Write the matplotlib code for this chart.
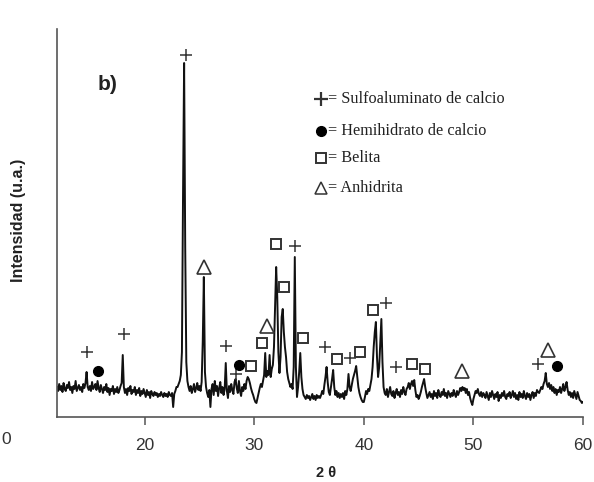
import numpy as np
import matplotlib
matplotlib.use("Agg")
import matplotlib.pyplot as plt

# 2-theta grid (0.1 deg steps) and intensities (arbitrary units)
theta = np.round(np.arange(12.0, 60.05, 0.1), 1)
intensity = [
    30, 26, 33, 27, 31, 25, 34, 28, 26, 32,   # 12
    29, 35, 27, 30, 24, 31, 28, 36, 26, 29,   # 13
    32, 27, 30, 25, 33, 29, 34, 45, 30, 27,   # 14
    31, 26, 35, 28, 30, 33, 27, 36, 29, 25,   # 15
    32, 28, 24, 30, 27, 33, 25, 29, 22, 28,   # 16
    26, 31, 23, 28, 25, 30, 24, 27, 31, 34,   # 17
    62, 30, 24, 28, 22, 29, 26, 31, 23, 27,   # 18
    25, 30, 22, 27, 24, 29, 21, 26, 23, 28,   # 19
    24, 20, 27, 22, 25, 19, 26, 23, 21, 25,   # 20
    22, 24, 20, 23, 21, 25, 22, 20, 24, 21,   # 21
    23, 20, 25, 22, 21, 24, 10, 23, 26, 30,   # 22
    30, 33, 36, 42, 65, 220, 354, 170, 55, 36,  # 23
    30, 26, 31, 24, 28, 33, 25, 29, 34, 27,   # 24
    31, 26, 35, 75, 140, 45, 30, 24, 20, 27,  # 25
    10, 28, 33, 22, 36, 26, 31, 21, 29, 35,   # 26
    24, 30, 22, 28, 54, 26, 19, 31, 25, 33,   # 27
    27, 23, 35, 38, 29, 24, 36, 26, 21, 30,   # 28
    26, 33, 28, 36, 40, 38, 34, 29, 25, 22,   # 29
    18, 15, 14, 19, 24, 29, 33, 30, 36, 42,   # 30
    64, 40, 46, 42, 62, 40, 48, 52, 70, 110,  # 31
    150, 120, 65, 44, 60, 100, 108, 85, 70, 60,  # 32
    45, 38, 34, 30, 33, 28, 50, 160, 50, 20,  # 33
    30, 45, 64, 40, 28, 22, 20, 18, 22, 19,   # 34
    21, 17, 20, 23, 18, 21, 17, 22, 19, 21,   # 35
    19, 22, 26, 23, 32, 40, 50, 35, 25, 22,   # 36
    30, 38, 47, 30, 22, 26, 20, 24, 19, 23,   # 37
    20, 24, 18, 26, 22, 28, 43, 30, 26, 32,   # 38
    38, 42, 46, 51, 40, 30, 24, 20, 17, 15,   # 39
    15, 20, 26, 23, 28, 26, 32, 38, 50, 70,   # 40
    85, 95, 60, 40, 50, 75, 98, 55, 30, 24,   # 41
    22, 28, 20, 25, 30, 23, 21, 26, 19, 24,   # 42
    28, 22, 25, 20, 27, 23, 30, 25, 22, 28,   # 43
    30, 34, 28, 33, 36, 31, 37, 27, 20, 22,   # 44
    18, 21, 25, 30, 34, 38, 30, 24, 19, 22,   # 45
    25, 20, 23, 18, 26, 21, 24, 19, 27, 22,   # 46
    20, 25, 22, 28, 21, 24, 19, 26, 23, 20,   # 47
    24, 21, 27, 23, 20, 26, 22, 25, 29, 26,   # 48
    30, 27, 29, 24, 28, 22, 25, 19, 15, 12,   # 49
    18, 22, 26, 24, 28, 23, 21, 25, 20, 24,   # 50
    22, 19, 25, 21, 17, 24, 20, 26, 22, 18,   # 51
    23, 20, 25, 16, 22, 19, 24, 21, 26, 20,   # 52
    18, 23, 21, 25, 19, 22, 26, 20, 24, 18,   # 53
    22, 17, 25, 20, 23, 19, 26, 21, 18, 24,   # 54
    20, 23, 17, 22, 25, 19, 24, 21, 27, 25,   # 55
    24, 27, 30, 28, 33, 36, 44, 33, 30, 34,   # 56
    28, 32, 26, 30, 24, 28, 22, 27, 25, 30,   # 57
    24, 28, 33, 26, 30, 35, 27, 22, 25, 20,   # 58
    24, 19, 26, 22, 18, 25, 21, 17, 16, 14,   # 59
    15,                                       # 60
]

# phase markers (2theta, height)
sulfo_x = [14.78, 18.1, 23.75, 27.42, 28.3, 33.76, 36.5, 38.7, 42.0, 42.92, 55.93]
sulfo_y = [65, 83, 362, 71, 43, 171, 70, 59, 114, 50, 53]
hemi_x = [15.75, 28.65, 57.6]
hemi_y = [46, 52, 51]
belita_x = [29.66, 30.72, 32.03, 32.76, 34.45, 37.55, 39.68, 40.83, 44.4, 45.6]
belita_y = [51, 74, 173, 130, 79, 58, 65, 107, 53, 48]
anh_x = [25.4, 31.18, 49.0, 56.8]
anh_y = [150, 91, 46, 67]

legend_labels = ["= Sulfoaluminato de calcio", "= Hemihidrato de calcio",
                 "= Belita", "= Anhidrita"]
xticks = [20, 30, 40, 50, 60]

W, H = 594, 482
fig = plt.figure(figsize=(W / 100, H / 100), dpi=100)
ax = fig.add_axes([57 / W, (H - 417) / H, (583 - 57) / W, (417 - 29) / H])

ax.plot(theta, intensity, color="#111111", lw=1.4)

mc = "#333333"
ax.plot(sulfo_x, sulfo_y, ls="none", marker="+", ms=8, mew=1.1, color=mc)
ax.plot(hemi_x, hemi_y, ls="none", marker="o", ms=7, color="black")
ax.plot(belita_x, belita_y, ls="none", marker="s", ms=7, mfc="white", mec=mc, mew=1.4)
ax.plot(anh_x, anh_y, ls="none", marker="^", ms=9.5, mfc="white", mec=mc, mew=1.2)

ax.set_xlim(12, 60)
ax.set_ylim(0, 388)
ax.set_yticks([])
ax.set_xticks(xticks)
ax.set_xticklabels([str(t) for t in xticks], fontsize=12.5, color="#333333",
                   family="Liberation Sans")
ax.tick_params(axis="x", direction="out", length=6, width=1.1, color="#555555", pad=9)
for s in ["top", "right"]:
    ax.spines[s].set_visible(False)
for s in ["left", "bottom"]:
    ax.spines[s].set_color("#555555")
    ax.spines[s].set_linewidth(1.2)

# legend drawn as figure text
def fx(px):
    return px / W

def fy(py):
    return 1 - py / H

leg_y = [99, 131, 158, 188]
leg_mk = [dict(marker="+", ms=10, mew=1.6, color=mc),
          dict(marker="o", ms=7, color="black"),
          dict(marker="s", ms=7, mfc="white", mec=mc, mew=1.4),
          dict(marker="^", ms=9, mfc="white", mec=mc, mew=1.1)]
for yy, lab, mk in zip(leg_y, legend_labels, leg_mk):
    fig.add_artist(plt.Line2D([fx(321)], [fy(yy)], ls="none", transform=fig.transFigure, **mk))
    fig.text(fx(328), fy(yy), lab, fontsize=11.7, family="Liberation Serif",
             color="#222222", va="center", ha="left")

fig.text(fx(108), fy(84), "b)", fontsize=15, fontweight="bold",
         family="Liberation Sans", color="#222222", ha="center", va="center")
fig.text(fx(19), fy(220), "Intensidad (u.a.)", rotation=90, fontsize=11.5,
         fontweight="bold", family="Liberation Sans", color="#222222",
         ha="center", va="center")
fig.text(fx(326), fy(480), "2 θ", fontsize=10.5, fontweight="bold",
         family="Liberation Sans", color="#222222", ha="center", va="bottom")
fig.text(fx(1), fy(440), "0", fontsize=12.5, family="Liberation Sans",
         color="#333333", ha="left", va="center")

fig.savefig("out.png", dpi=100)
